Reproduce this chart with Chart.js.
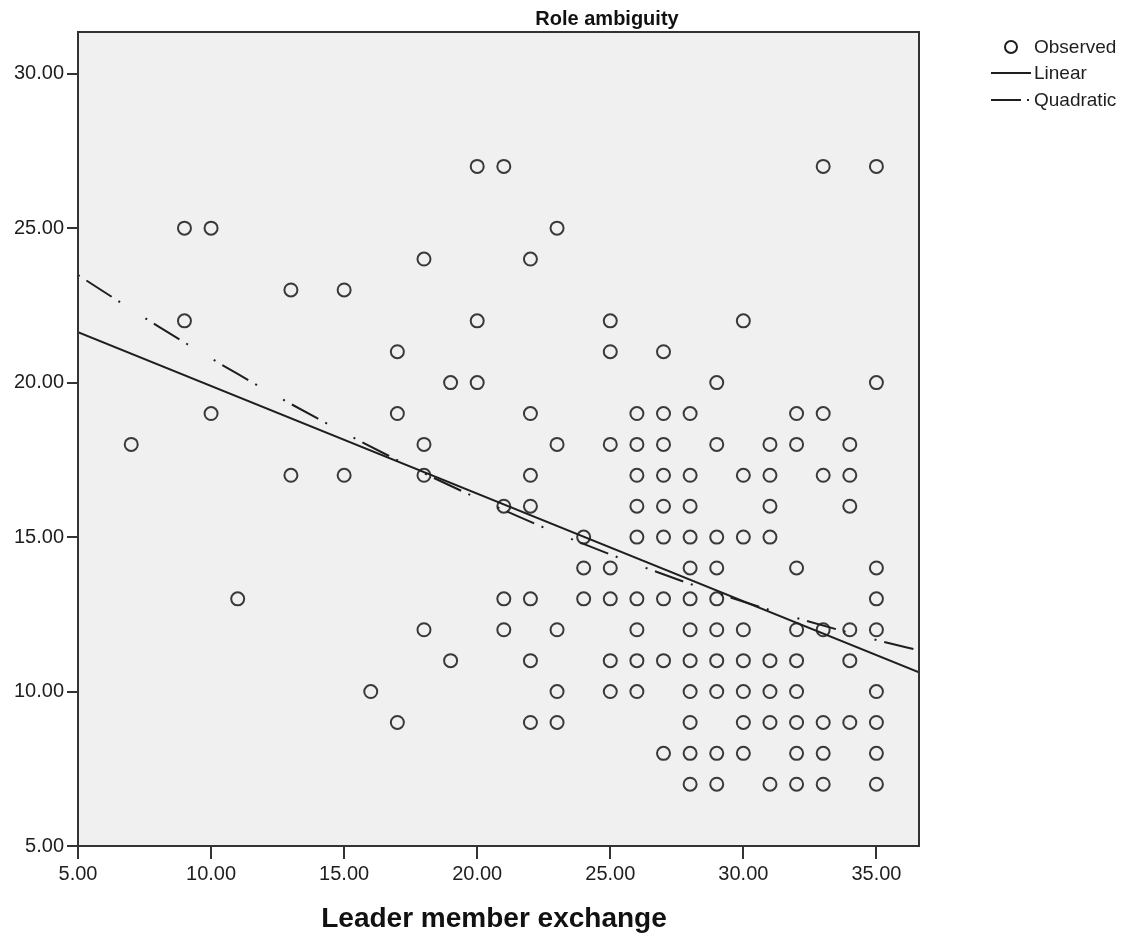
<!DOCTYPE html>
<html>
<head>
<meta charset="utf-8">
<title>Role ambiguity</title>
<script src="https://cdn.jsdelivr.net/npm/chart.js@4/dist/chart.umd.min.js"></script>
<style>
  body { margin: 0; background: #fff; }
  #wrap { width: 1144px; height: 942px; }
</style>
</head>
<body>
<div id="wrap"><canvas id="chart" width="1144" height="942"></canvas></div>
<script>
// observed cases (x = leader member exchange, y = role ambiguity)
const lmx = [
  7,
  9, 9,
  10, 10,
  11,
  13, 13,
  15, 15,
  16,
  17, 17, 17,
  18, 18, 18, 18,
  19, 19,
  20, 20, 20,
  21, 21, 21, 21,
  22, 22, 22, 22, 22, 22, 22,
  23, 23, 23, 23, 23,
  24, 24, 24,
  25, 25, 25, 25, 25, 25, 25,
  26, 26, 26, 26, 26, 26, 26, 26, 26,
  27, 27, 27, 27, 27, 27, 27, 27, 27,
  28, 28, 28, 28, 28, 28, 28, 28, 28, 28, 28, 28,
  29, 29, 29, 29, 29, 29, 29, 29, 29, 29,
  30, 30, 30, 30, 30, 30, 30, 30,
  31, 31, 31, 31, 31, 31, 31, 31,
  32, 32, 32, 32, 32, 32, 32, 32, 32,
  33, 33, 33, 33, 33, 33, 33,
  34, 34, 34, 34, 34, 34,
  35, 35, 35, 35, 35, 35, 35, 35, 35
];
const roleAmb = [
  18,
  25, 22,
  25, 19,
  13,
  23, 17,
  23, 17,
  10,
  21, 19, 9,
  24, 18, 17, 12,
  20, 11,
  27, 22, 20,
  27, 16, 13, 12,
  24, 19, 17, 16, 13, 11, 9,
  25, 18, 12, 10, 9,
  15, 14, 13,
  22, 21, 18, 14, 13, 11, 10,
  19, 18, 17, 16, 15, 13, 12, 11, 10,
  21, 19, 18, 17, 16, 15, 13, 11, 8,
  19, 17, 16, 15, 14, 13, 12, 11, 10, 9, 8, 7,
  20, 18, 15, 14, 13, 12, 11, 10, 8, 7,
  22, 17, 15, 12, 11, 10, 9, 8,
  18, 17, 16, 15, 11, 10, 9, 7,
  19, 18, 14, 12, 11, 10, 9, 8, 7,
  27, 19, 17, 12, 9, 8, 7,
  18, 17, 16, 12, 11, 9,
  27, 20, 14, 13, 12, 10, 9, 8, 7
];

// fitted lines
const linearX = [5, 36.6];
const linearY = [21.63, 10.62];
const quadX = [5, 8, 11, 14, 17, 20, 23, 26, 29, 32, 35, 36.6];
const quadY = [23.48, 21.83, 20.28, 18.84, 17.49, 16.26, 15.13, 14.11, 13.19, 12.38, 11.67, 11.33];

const xTicks = [5, 10, 15, 20, 25, 30, 35];
const yTicks = [5, 10, 15, 20, 25, 30];

const chartTitle = 'Role ambiguity';
const xTitle = 'Leader member exchange';
const legendLabels = ['Observed', 'Linear', 'Quadratic'];

const FONT = '"Liberation Sans", Arial, sans-serif';
const INK = '#1e1e1e';
const QUAD_DASH = [2, 8, 30, 8, 2, 30];

function toPoints(xs, ys) {
  return xs.map((x, i) => ({ x: x, y: ys[i] }));
}

// plot background, frame, titles and legend
const decorations = {
  id: 'decorations',
  beforeDatasetsDraw(chart) {
    const { ctx, chartArea: a } = chart;
    ctx.save();
    ctx.fillStyle = '#f0f0f0';
    ctx.fillRect(a.left, a.top, a.right - a.left, a.bottom - a.top);
    ctx.restore();
  },
  afterDraw(chart) {
    const { ctx, chartArea: a } = chart;
    ctx.save();
    ctx.strokeStyle = '#333';
    ctx.lineWidth = 2;
    ctx.strokeRect(a.left, a.top, a.right - a.left, a.bottom - a.top);

    ctx.fillStyle = '#111';
    ctx.textAlign = 'center';
    ctx.textBaseline = 'alphabetic';
    ctx.font = 'bold 20px ' + FONT;
    ctx.fillText(chartTitle, 607, 25);

    ctx.font = 'bold 28px ' + FONT;
    ctx.textBaseline = 'middle';
    ctx.fillText(xTitle, 494, 919);

    // legend
    ctx.font = '19px ' + FONT;
    ctx.textAlign = 'left';
    ctx.fillStyle = INK;
    ctx.strokeStyle = INK;
    ctx.lineWidth = 2;
    ctx.beginPath();
    ctx.arc(1011, 47, 6, 0, Math.PI * 2);
    ctx.stroke();
    ctx.fillText(legendLabels[0], 1034, 48);

    ctx.beginPath();
    ctx.moveTo(991, 73);
    ctx.lineTo(1031, 73);
    ctx.stroke();
    ctx.fillText(legendLabels[1], 1034, 74);

    ctx.setLineDash([30, 6, 2, 6]);
    ctx.beginPath();
    ctx.moveTo(991, 100);
    ctx.lineTo(1031, 100);
    ctx.stroke();
    ctx.setLineDash([]);
    ctx.fillText(legendLabels[2], 1034, 101);
    ctx.restore();
  }
};

new Chart(document.getElementById('chart'), {
  type: 'scatter',
  data: {
    datasets: [
      {
        label: legendLabels[0],
        data: toPoints(lmx, roleAmb),
        pointStyle: 'circle',
        pointRadius: 6.5,
        pointBorderWidth: 2,
        borderColor: 'rgba(25,25,25,0.85)',
        backgroundColor: 'rgba(0,0,0,0)',
        order: 3
      },
      {
        label: legendLabels[1],
        data: toPoints(linearX, linearY),
        showLine: true,
        borderColor: INK,
        borderWidth: 2,
        pointRadius: 0,
        order: 2
      },
      {
        label: legendLabels[2],
        data: toPoints(quadX, quadY),
        showLine: true,
        tension: 0.4,
        cubicInterpolationMode: 'monotone',
        borderColor: INK,
        borderWidth: 2,
        borderDash: QUAD_DASH,
        pointRadius: 0,
        order: 1
      }
    ]
  },
  options: {
    responsive: false,
    animation: false,
    layout: { padding: { left: 0, top: 32, right: 225, bottom: 0 } },
    plugins: {
      legend: { display: false },
      title: { display: false },
      tooltip: { enabled: false }
    },
    scales: {
      x: {
        type: 'linear',
        min: 5,
        max: 36.6,
        afterBuildTicks: (scale) => { scale.ticks = xTicks.map(v => ({ value: v })); },
        afterFit: (scale) => { scale.height = 96; },
        grid: { drawOnChartArea: false, drawTicks: true, tickLength: 13, color: '#333', lineWidth: 2 },
        border: { display: true, color: '#333', width: 2 },
        ticks: {
          color: INK,
          padding: 3,
          maxRotation: 0,
          font: { family: FONT, size: 20 },
          callback: (v) => Number(v).toFixed(2)
        }
      },
      y: {
        type: 'linear',
        min: 5,
        max: 31.35,
        afterBuildTicks: (scale) => { scale.ticks = yTicks.map(v => ({ value: v })); },
        afterFit: (scale) => { scale.width = 78; },
        grid: { drawOnChartArea: false, drawTicks: true, tickLength: 11, color: '#333', lineWidth: 2 },
        border: { display: true, color: '#333', width: 2 },
        ticks: {
          color: INK,
          padding: 3,
          font: { family: FONT, size: 20 },
          callback: (v) => Number(v).toFixed(2)
        }
      }
    }
  },
  plugins: [decorations]
});
</script>
</body>
</html>
